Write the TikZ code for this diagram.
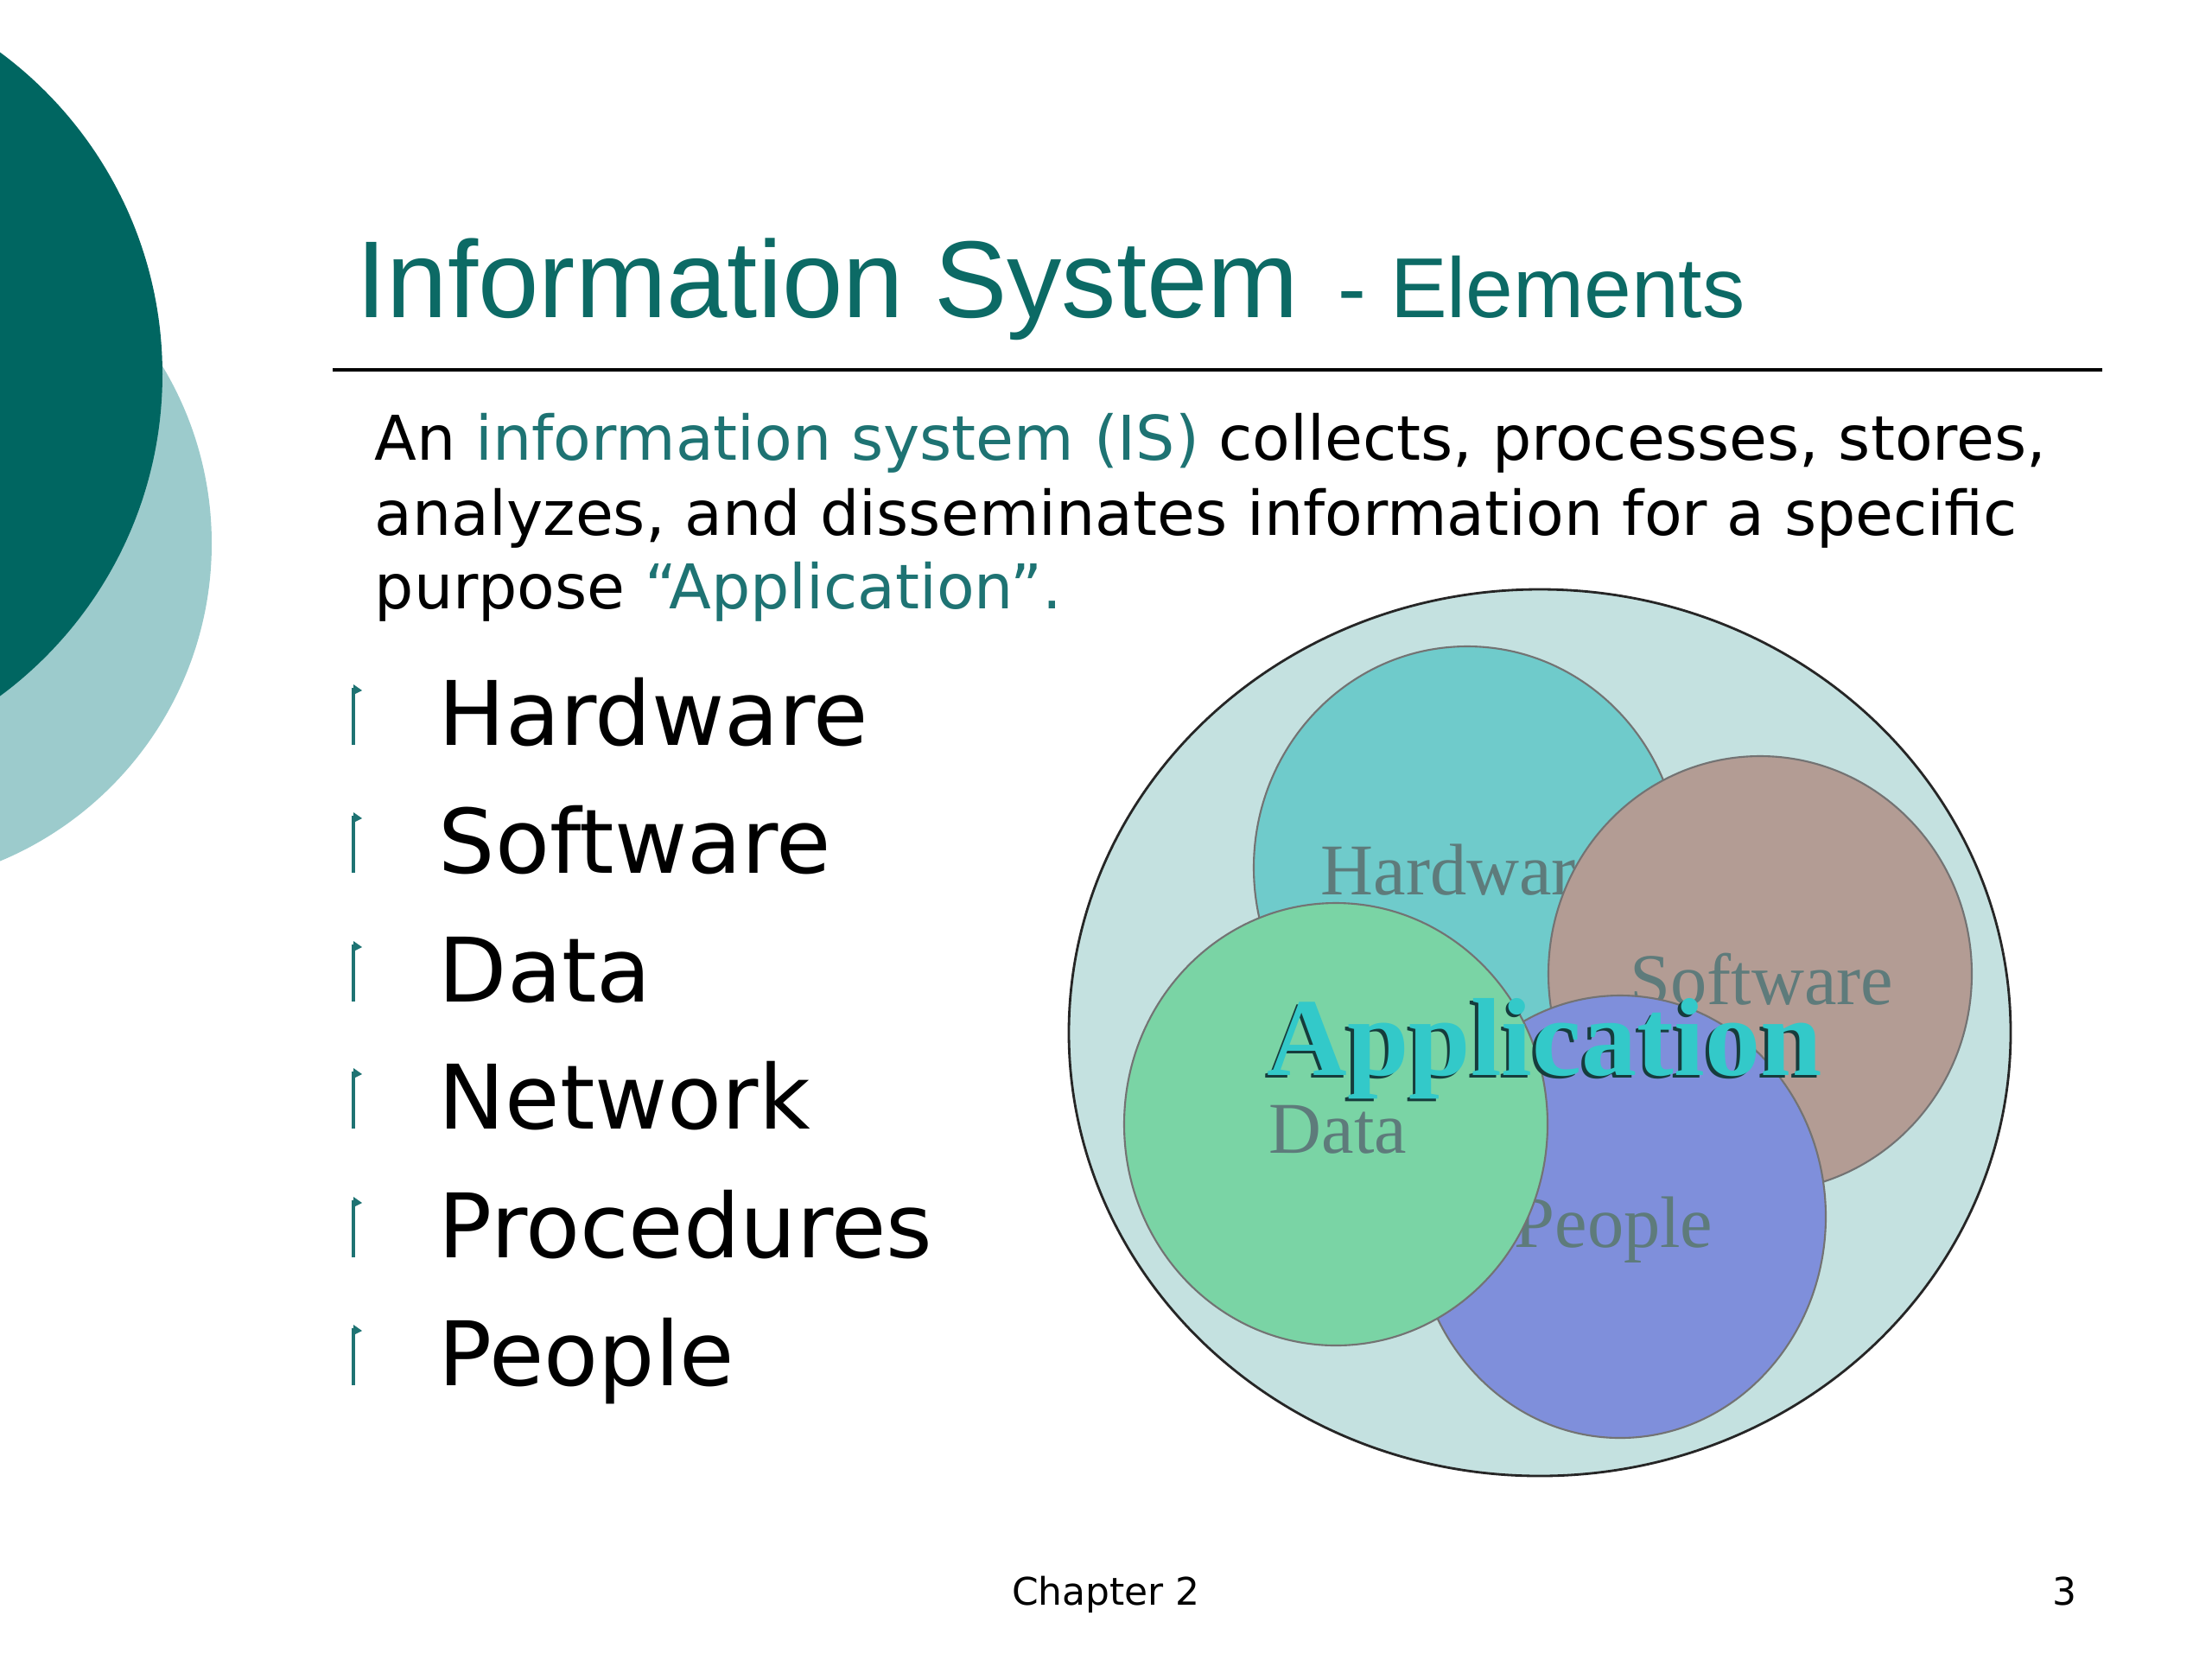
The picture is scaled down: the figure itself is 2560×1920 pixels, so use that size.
\documentclass[tikz,border=0pt]{standalone}
\usepackage{fontspec}
\usepackage{xcolor}
\usepackage{tikz}
\usetikzlibrary{positioning}

\newfontfamily\verdfont{DejaVu Sans}
\newfontfamily\arialfont{Liberation Sans}
\newfontfamily\romanfont[BoldFont={Liberation Serif Bold}]{Liberation Serif}

\definecolor{deepteal}{HTML}{006661}
\definecolor{paleteal}{HTML}{9CCBCC}
\definecolor{titleteal}{HTML}{0C6A65}
\definecolor{textteal}{HTML}{1E7373}
\definecolor{outerfill}{HTML}{C4E1E0}
\definecolor{hwfill}{HTML}{6FCBCB}
\definecolor{swfill}{HTML}{B39C94}
\definecolor{ppfill}{HTML}{7F8FDB}
\definecolor{dtfill}{HTML}{7AD4A5}
\definecolor{labelgray}{HTML}{5E7B7B}
\definecolor{appteal}{HTML}{33C9C9}
\definecolor{appshade}{HTML}{163C3C}

% text with a small dark shadow to the lower left
\newcommand{\shadowed}[1]{\makebox[0pt][l]{\hspace{-1pt}\raisebox{-1pt}{\textcolor{appshade}{#1}}}#1}

\tikzset{
  elem/.style={draw=black!55, line width=0.6pt},
  elemlabel/.style={anchor=base west, inner sep=0pt, text=labelgray,
    font=\romanfont\fontsize{24}{24}\selectfont},
  item/.style={anchor=base west, inner sep=0pt,
    font=\verdfont\fontsize{29.3}{31}\selectfont},
  bodyline/.style={anchor=base west, inner sep=0pt,
    font=\verdfont\fontsize{20.3}{24}\selectfont},
  apptext/.style={anchor=base west, inner sep=0pt, text=appteal,
    font=\romanfont\bfseries\fontsize{36.5}{40}\selectfont},
}

\begin{document}
\begin{tikzpicture}[x=0.01cm, y=-0.01cm]
\useasboundingbox (0,0) rectangle (2560,1920);
\clip (0,0) rectangle (2560,1920);
\fill [white] (0,0) rectangle (2560,1920);

% corner decoration
\fill [paleteal] (-153,629) circle [radius=398];
\fill [deepteal] (-275,433) circle [radius=463];

\node [anchor=base west, inner sep=0pt, text=titleteal] (title) at (412,367)
  {\arialfont\fontsize{36}{40}\selectfont Information System\hspace{3pt}
   \fontsize{28}{32}\selectfont - Elements};
\draw [line width=1.2pt] (385,428) -- (2433,428);

\node [bodyline] (para1) at (433,532)
  {An \textcolor{textteal}{information system (IS)} collects, processes, stores,};
\node [bodyline] (para2) at (433,619)
  {analyzes, and disseminates information for a specific};
\node [bodyline] (para3) at (433,704)
  {purpose \textcolor{textteal}{“Application”.}};

% bullet list
\foreach \name/\txt/\yy in {hw/Hardware/862, sw/Software/1010, dt/Data/1159,
    nw/Network/1306, pr/Procedures/1455, pp/People/1603} {
  \draw [textteal, line width=1.1pt] (409,\yy) -- (409,\yy-66);
  \fill [textteal] (409,\yy-70) -- (419,\yy-63) -- (409,\yy-58) -- cycle;
  \node [item] (\name) at (507,\yy) {\txt};
}

% elements diagram
\filldraw [outerfill, draw=black!85, line width=0.8pt] (1782,1195) ellipse [x radius=545, y radius=513];
\filldraw [hwfill, elem] (1698,1004) ellipse [x radius=247, y radius=256];
\node [elemlabel] (hwlabel) at (1528,1035) {Hardware};
\filldraw [swfill, elem] (2037,1127) ellipse [x radius=245, y radius=252];
\node [elemlabel] (swlabel) at (1886,1162) {Software};
\filldraw [ppfill, elem] (1875,1408) ellipse [x radius=238, y radius=256];
\node [elemlabel] (pplabel) at (1752,1443) {People};
\filldraw [dtfill, elem] (1546,1301) ellipse [x radius=245, y radius=256];
\node [elemlabel] (dtlabel) at (1468,1334) {Data};

\node [apptext] (app) at (1466,1244) {\shadowed{Application}};

% footer
\node [anchor=base, inner sep=0pt, font=\verdfont\fontsize{12.5}{14}\selectfont] (chapter) at (1280,1857) {Chapter 2};
\node [anchor=base east, inner sep=0pt, font=\verdfont\fontsize{12.5}{14}\selectfont] (pagenum) at (2404,1857) {3};
\end{tikzpicture}
\end{document}
